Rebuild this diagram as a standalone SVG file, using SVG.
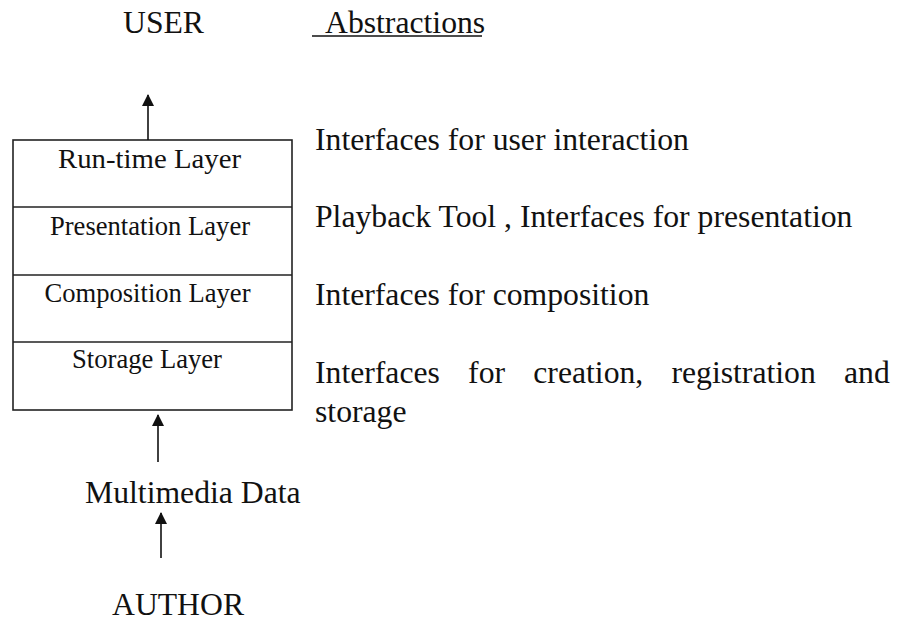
<svg xmlns="http://www.w3.org/2000/svg" width="898" height="624" viewBox="0 0 898 624">
<style>
  text { font-family: "Liberation Serif", "Times New Roman", serif; fill: #111; }
  .big { font-size: 31.7px; }
  .layer { font-size: 26.6px; text-anchor: middle; }
  .box { fill: none; stroke: #222; stroke-width: 1.6; }
  .conn { stroke: #111; stroke-width: 1.6; fill: none; }
</style>
<defs>
  <marker id="arrow" viewBox="0 0 12 12" refX="11" refY="6" markerWidth="12" markerHeight="12" markerUnits="userSpaceOnUse" orient="auto">
    <path d="M0,0 L12,6 L0,12 Z" fill="#111"/>
  </marker>
</defs>
<rect width="898" height="624" fill="#fff"/>

<g id="user"><text class="big" x="123" y="33">USER</text></g>
<g id="abstractions">
  <text class="big" x="325" y="33">Abstractions</text>
  <line x1="312" y1="36" x2="482" y2="36" stroke="#111" stroke-width="1.5"/>
</g>

<g id="layer-stack">
  <rect class="box" x="13" y="140" width="279" height="270"/>
  <line class="box" x1="13" y1="207" x2="292" y2="207"/>
  <line class="box" x1="13" y1="275" x2="292" y2="275"/>
  <line class="box" x1="13" y1="342" x2="292" y2="342"/>
</g>
<g id="runtime-layer"><text class="layer" x="149.5" y="168" textLength="183" lengthAdjust="spacingAndGlyphs">Run-time Layer</text></g>
<g id="presentation-layer"><text class="layer" x="150" y="235">Presentation Layer</text></g>
<g id="composition-layer"><text class="layer" x="147.5" y="302">Composition Layer</text></g>
<g id="storage-layer"><text class="layer" x="147" y="368">Storage Layer</text></g>

<g id="abstraction-texts">
  <text class="big" x="315" y="150">Interfaces for user interaction</text>
  <text class="big" x="315" y="227">Playback Tool , Interfaces for presentation</text>
  <text class="big" x="315" y="305">Interfaces for composition</text>
  <text class="big" x="315" y="383" word-spacing="20.3">Interfaces for creation, registration and</text>
  <text class="big" x="315" y="422">storage</text>
</g>

<g id="multimedia-data"><text class="big" x="85" y="503">Multimedia Data</text></g>
<g id="author"><text class="big" x="112" y="615">AUTHOR</text></g>

<g id="connectors">
  <line class="conn" x1="148" y1="140" x2="148" y2="95" marker-end="url(#arrow)"/>
  <line class="conn" x1="158" y1="462" x2="158" y2="415" marker-end="url(#arrow)"/>
  <line class="conn" x1="161" y1="558" x2="161" y2="513" marker-end="url(#arrow)"/>
</g>
</svg>
